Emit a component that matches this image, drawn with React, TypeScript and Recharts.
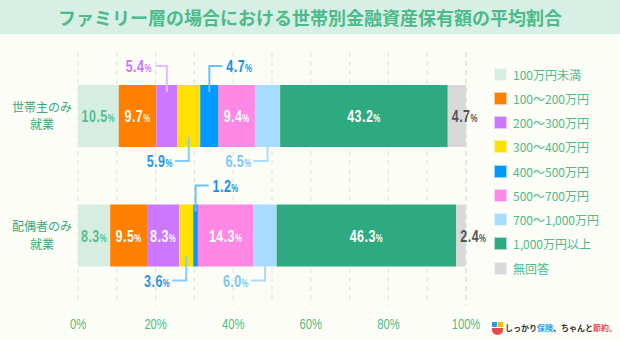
import React from 'react';
import { BarChart, Bar, XAxis, YAxis, CartesianGrid, LabelList } from 'recharts';

const categories = ['世帯主のみ\n就業', '配偶者のみ\n就業'];
const seriesNames = [
  '100万円未満',
  '100～200万円',
  '200～300万円',
  '300～400万円',
  '400～500万円',
  '500～700万円',
  '700～1,000万円',
  '1,000万円以上',
  '無回答',
];
const householdHeadValues = [10.5, 9.7, 5.4, 5.9, 4.7, 9.4, 6.5, 43.2, 4.7];
const spouseValues = [8.3, 9.5, 8.3, 3.6, 1.2, 14.3, 6.0, 46.3, 2.4];
const xTicks = [0, 10, 20, 30, 40, 50, 60, 70, 80, 90, 100];
const titleText = 'ファミリー層の場合における世帯別金融資産保有額の平均割合';

const rowValues = [householdHeadValues, spouseValues];
const data = categories.map((name, r) => {
  const row: Record<string, any> = { name };
  seriesNames.forEach((s, i) => {
    row['s' + i] = rowValues[r][i];
  });
  return row;
});

type LabelStyle = {
  color: string;
  inText: string;
  outText: string;
  mode: 'inside' | 'right' | 'above-left' | 'above-right' | 'below-left';
  line?: string;
};

const styles: LabelStyle[] = [
  { color: '#d6eee2', inText: '#55bd90', outText: '#55bd90', mode: 'inside' },
  { color: '#ff8000', inText: '#ffffff', outText: '#ff8000', mode: 'inside' },
  { color: '#cc77ff', inText: '#ffffff', outText: '#cc77ff', mode: 'above-left', line: '#e4bcff' },
  { color: '#ffe000', inText: '#ffffff', outText: '#2b93e6', mode: 'below-left', line: '#86ccff' },
  { color: '#0099ff', inText: '#ffffff', outText: '#1591ee', mode: 'above-right', line: '#6cc0ff' },
  { color: '#ff88e6', inText: '#ffffff', outText: '#ff88e6', mode: 'inside' },
  { color: '#a8dcff', inText: '#ffffff', outText: '#7cc6f2', mode: 'below-left', line: '#a8dcff' },
  { color: '#2eaa80', inText: '#ffffff', outText: '#2eaa80', mode: 'inside' },
  { color: '#d9d9d9', inText: '#555555', outText: '#555555', mode: 'right' },
];

const NUM_FONT = "'Liberation Sans', Arial, sans-serif";
const JP_FONT = "'Noto Sans CJK JP', 'Noto Sans', sans-serif";
const GREEN = '#4cbb8a';

function ValueText({ x, y, anchor, fill, value }: any) {
  return (
    <text
      x={0}
      y={0}
      transform={`translate(${x},${y}) scale(0.78,1)`}
      textAnchor={anchor}
      fill={fill}
      fontFamily={NUM_FONT}
      fontWeight="bold"
      letterSpacing={0.6}
    >
      <tspan fontSize={16}>{Number(value).toFixed(1)}</tspan>
      <tspan fontSize={10}>%</tspan>
    </text>
  );
}

const makeLabel = (idx: number) => (props: any) => {
  const vb = props.viewBox ?? props;
  const x = Number(vb.x ?? props.x);
  const y = Number(vb.y ?? props.y);
  const w = Number(vb.width ?? props.width);
  const h = Number(vb.height ?? props.height);
  const v = Number(props.value);
  if (!isFinite(v) || !isFinite(x)) return null;
  const st = styles[idx];
  const cx = x + w / 2;
  const cy = y + h / 2;
  const top = y;
  const bottom = y + h;
  if (st.mode === 'right') {
    return <ValueText x={x + 4} y={cy + 6} anchor="start" fill={st.inText} value={v} />;
  }
  if (st.mode === 'inside' || v >= 7) {
    return <ValueText x={cx} y={cy + 6} anchor="middle" fill={st.inText} value={v} />;
  }
  if (st.mode === 'above-left' || st.mode === 'above-right') {
    const ly = top - 19;
    const right = st.mode === 'above-right';
    const ex = right ? cx + 13 : cx - 11;
    return (
      <g>
        <polyline
          points={`${cx},${top + 7} ${cx},${ly} ${ex},${ly}`}
          fill="none"
          stroke={st.line}
          strokeWidth={2}
        />
        <ValueText
          x={right ? cx + 17 : cx - 15}
          y={ly + 6}
          anchor={right ? 'start' : 'end'}
          fill={st.outText}
          value={v}
        />
      </g>
    );
  }
  const ly = bottom + 14;
  return (
    <g>
      <polyline
        points={`${cx},${bottom - 10} ${cx},${ly} ${cx - 14},${ly}`}
        fill="none"
        stroke={st.line}
        strokeWidth={2}
      />
      <ValueText x={cx - 16} y={ly + 6} anchor="end" fill={st.outText} value={v} />
    </g>
  );
};

const CategoryTick = (props: any) => {
  const { x, y, payload } = props;
  const lines = String(payload.value).split('\n');
  return (
    <g>
      {lines.map((l, i) => (
        <text
          key={i}
          x={x - 36}
          y={y + (i - (lines.length - 1) / 2) * 17.5 + 4.5}
          textAnchor="middle"
          fill="#3aaa7c"
          fontSize={12}
          fontFamily={JP_FONT}
        >
          {l}
        </text>
      ))}
    </g>
  );
};

const PercentTick = (props: any) => {
  const { x, y, payload } = props;
  if (payload.value % 20 !== 0) return null;
  return (
    <text
      x={0}
      y={0}
      transform={`translate(${x},${y + 22}) scale(0.8,1)`}
      textAnchor="middle"
      fill={GREEN}
      fontSize={14}
      fontFamily={NUM_FONT}
    >
      {payload.value}%
    </text>
  );
};

export default function App() {
  return (
    <div
      style={{
        position: 'absolute',
        left: 0,
        top: 0,
        width: 620,
        height: 340,
        background: '#fcfdf6',
        overflow: 'hidden',
      }}
    >
      <div
        style={{
          position: 'absolute',
          left: 0,
          top: 0,
          width: 620,
          height: 34,
          background: '#d8efe5',
          color: GREEN,
          fontFamily: JP_FONT,
          fontWeight: 'bold',
          fontSize: 18,
          lineHeight: '34px',
          textAlign: 'center',
        }}
      >
        {titleText}
      </div>
      <div style={{ position: 'absolute', left: 0, top: 0 }}>
        <BarChart
          width={620}
          height={340}
          data={data}
          layout="vertical"
          margin={{ top: 52, right: 154, bottom: 0, left: 0 }}
        >
          <CartesianGrid
            horizontal={false}
            vertical={true}
            stroke="#cfe9dc"
            strokeDasharray="5 4"
          />
          <XAxis
            type="number"
            domain={[0, 100]}
            ticks={xTicks}
            axisLine={false}
            tickLine={false}
            tickSize={0}
            height={35}
            interval={0}
            tick={<PercentTick />}
          />
          <YAxis
            type="category"
            dataKey="name"
            width={78}
            axisLine={false}
            tickLine={false}
            tickSize={0}
            tickMargin={0}
            padding={{ top: 4, bottom: 10 }}
            tick={<CategoryTick />}
          />
          {seriesNames.map((s, i) => (
            <Bar
              key={s}
              dataKey={'s' + i}
              name={s}
              stackId="a"
              fill={styles[i].color}
              barSize={62}
              isAnimationActive={false}
            >
              <LabelList dataKey={'s' + i} content={makeLabel(i)} />
            </Bar>
          ))}
        </BarChart>
      </div>
      <div style={{ position: 'absolute', left: 494, top: 62 }}>
        {seriesNames.map((s, i) => (
          <div
            key={s}
            style={{
              display: 'flex',
              alignItems: 'center',
              height: 24.25,
              fontFamily: JP_FONT,
              fontSize: 12,
              color: GREEN,
              whiteSpace: 'nowrap',
            }}
          >
            <span
              style={{
                display: 'inline-block',
                width: 13,
                height: 13,
                background: styles[i].color,
                marginRight: 6,
                boxSizing: 'border-box',
                border: '1px solid rgba(255,255,255,0.6)',
              }}
            />
            {s}
          </div>
        ))}
      </div>
      <svg
        style={{ position: 'absolute', left: 490, top: 320 }}
        width={14}
        height={16}
      >
        <rect x={2} y={2} width={5} height={5} fill="#29a0e0" />
        <rect x={8} y={2} width={5} height={5} fill="#f5b800" />
        <path d="M2,8 L13,8 L13,10 A5.5,5 0 0 1 2,10 Z" fill="#e84a4a" />
      </svg>
      <div
        style={{
          position: 'absolute',
          left: 505,
          top: 322,
          fontFamily: JP_FONT,
          fontWeight: 'bold',
          fontSize: 8,
          lineHeight: '12px',
          color: '#333',
          whiteSpace: 'nowrap',
        }}
      >
        しっかり<span style={{ color: '#29a0e0' }}>保険</span>、ちゃんと
        <span style={{ color: '#e84a4a' }}>節約。</span>
      </div>
    </div>
  );
}
